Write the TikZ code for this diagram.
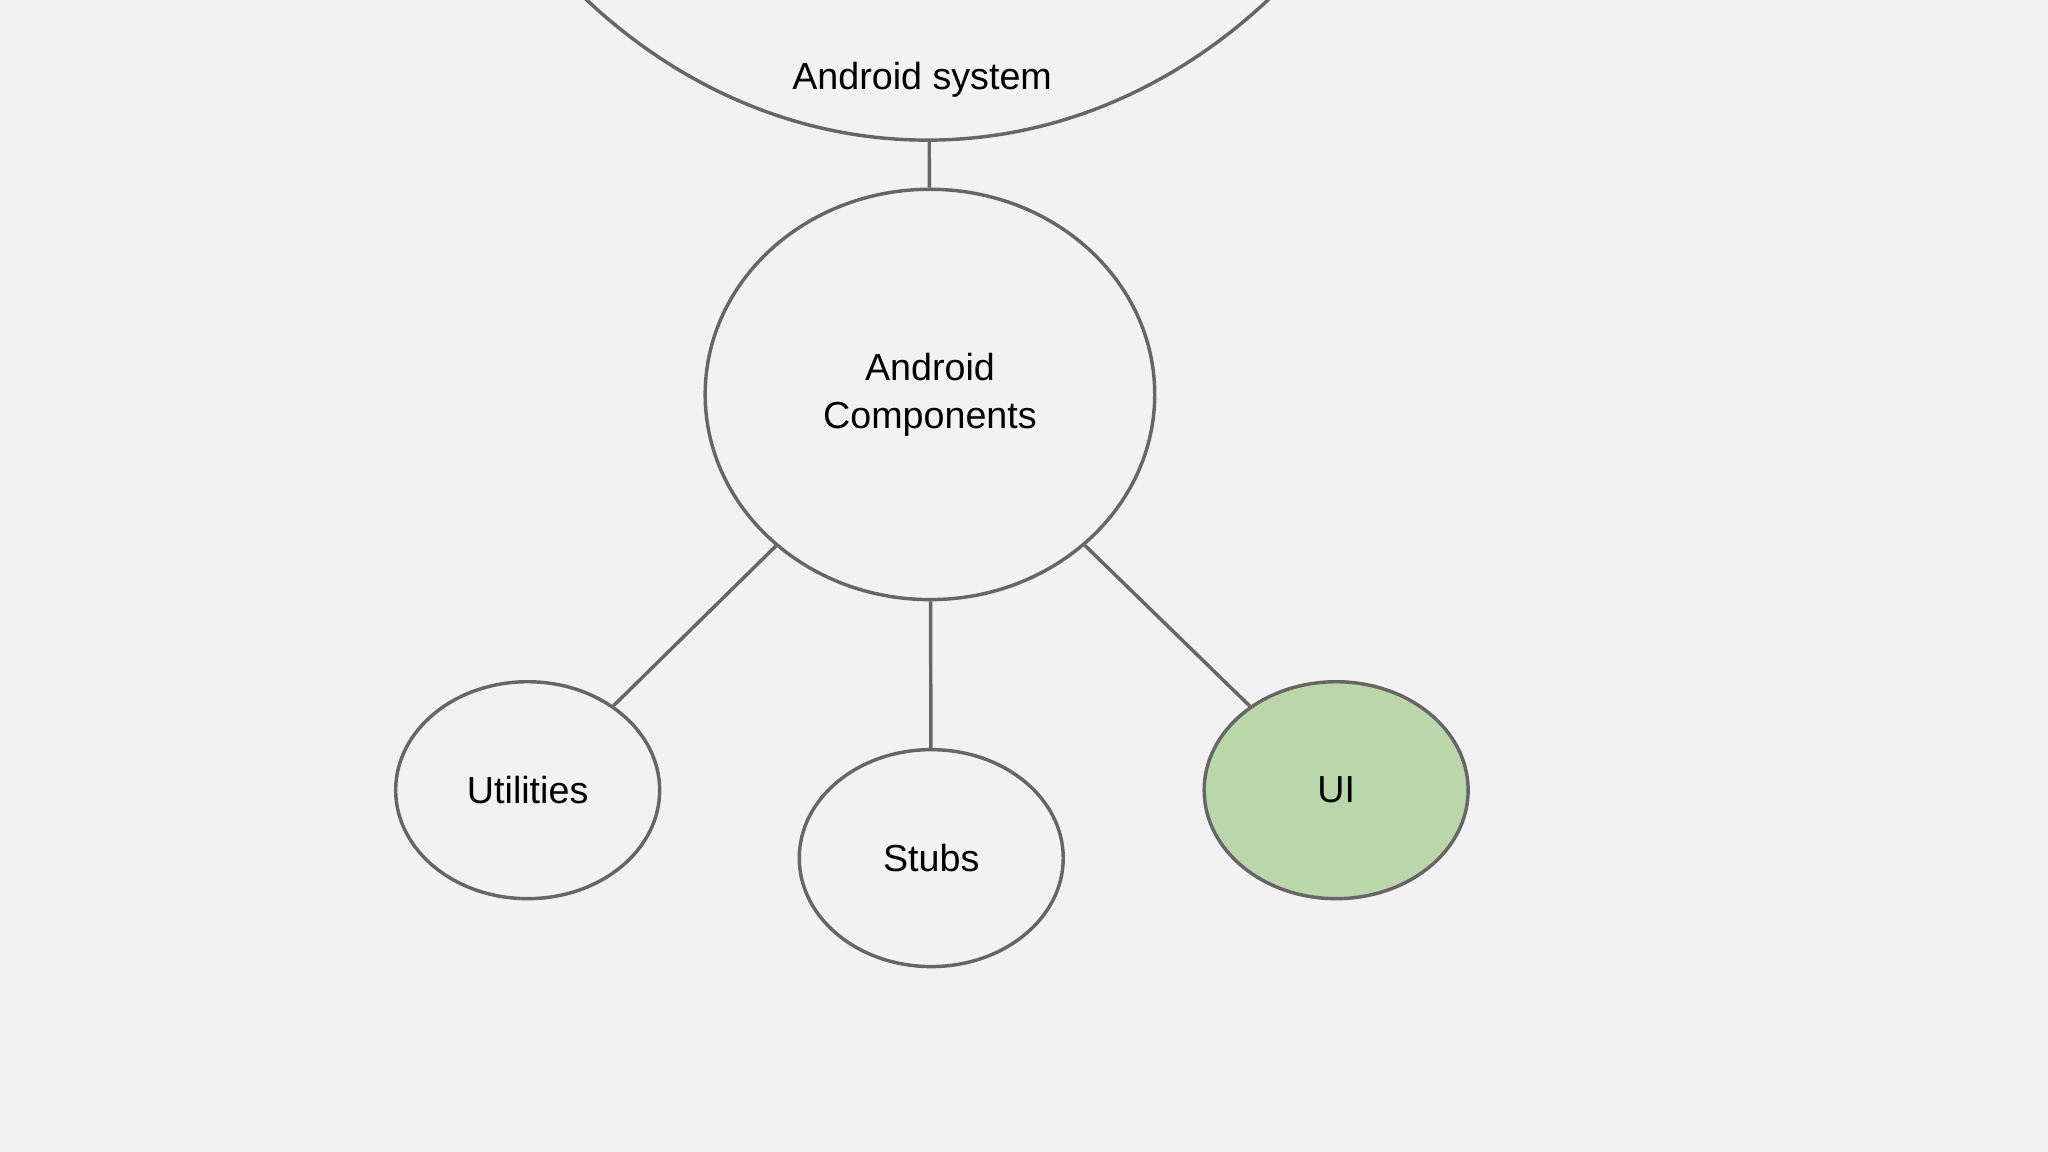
\documentclass[tikz,border=0pt]{standalone}
\usepackage{fontspec}
\setmainfont{Liberation Sans}
\usetikzlibrary{shapes.geometric}
\begin{document}
\begin{tikzpicture}[x=0.01cm,y=-0.01cm,
  ell/.style={ellipse,draw=black!60,line width=0.75pt,inner sep=0pt,align=center,font=\fontsize{8.2}{10.5}\selectfont},
  conn/.style={draw=black!60,line width=0.75pt}]
\fill[black!5] (0,0) rectangle (1568,882);
\useasboundingbox (0,0) rectangle (1568,882);
\begin{scope}
\clip (0,0) rectangle (1568,882);
\node[ell,minimum width=840\pgflinewidth*0+8.4cm,minimum height=9.94cm] (sys) at (710,-390) {};
\node[font=\fontsize{8.2}{10.5}\selectfont] (syslab) at (706,61) {Android system};
\end{scope}
\node[ell,minimum width=3.44cm,minimum height=3.14cm] (comp) at (712,302) {Android\\Components};
\node[ell,minimum width=2.02cm,minimum height=1.66cm] (util) at (404,605) {Utilities};
\node[ell,minimum width=2.02cm,minimum height=1.66cm] (stub) at (713,657) {Stubs};
\node[ell,minimum width=2.02cm,minimum height=1.66cm,fill={rgb,255:red,185;green,215;blue,168}] (ui) at (1023,605) {UI};
\draw[conn] (sys) -- (comp);
\draw[conn] (comp) -- (util);
\draw[conn] (comp) -- (stub);
\draw[conn] (comp) -- (ui);
\end{tikzpicture}
\end{document}
